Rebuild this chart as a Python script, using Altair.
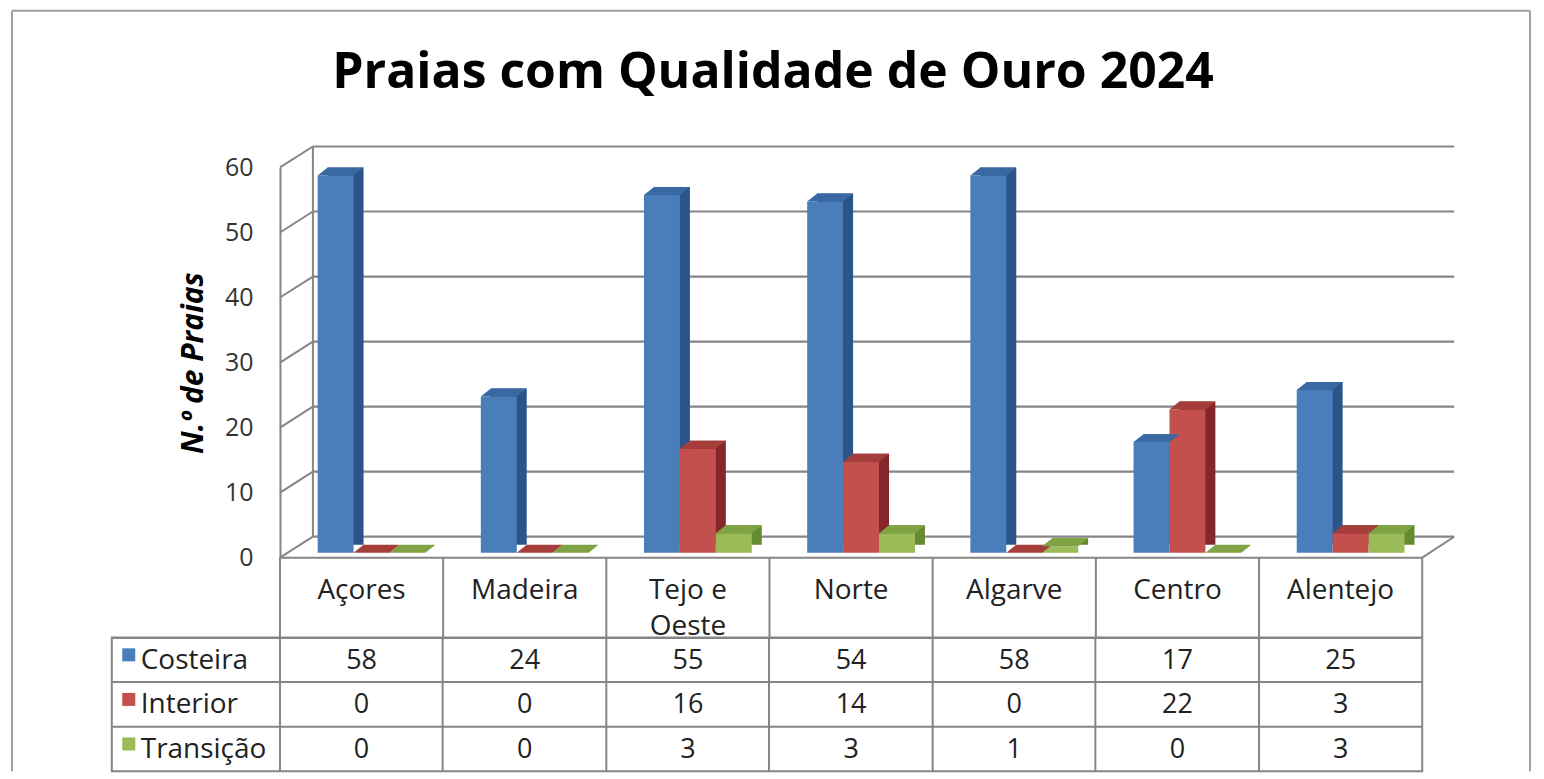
import altair as alt
import pandas as pd

# ---------------- data ----------------
categories = ["Açores", "Madeira", "Tejo e\nOeste", "Norte", "Algarve", "Centro", "Alentejo"]
series = ["Costeira", "Interior", "Transição"]
costeira = [58, 24, 55, 54, 58, 17, 25]
interior = [0, 0, 16, 14, 0, 22, 3]
transicao = [0, 0, 3, 3, 1, 0, 3]
y_ticks = [0, 10, 20, 30, 40, 50, 60]
title_text = "Praias com Qualidade de Ouro 2024"
y_title = "N.º de Praias"

# ---------------- style ----------------
front_colors = ["#4a7ebb", "#c4504d", "#9bbb59"]
top_colors = ["#3a68a3", "#a53e3b", "#7fa243"]
side_colors = ["#2b5589", "#84262a", "#668a30"]
FONT = "Open Sans"
GRID = "#858585"
TEXT = "#222222"
W = 1313            # plot width (legend column + 7 category columns)
BAND = 163.5        # category column width
LEG = W - 7 * BAND  # legend column width
H_BARS = 391
H_HEAD = 80
H_ROWS = 134
DX, DY = 33, 21     # depth of the back wall
BX, BY = 10, 5      # bars sit part way in depth
TX, TY = 10, 8      # depth of each bar
BW = 36             # bar width
G0 = (BAND - 3 * BW) / 2
R = 30              # custom symbol scale (sqrt(size)/2)
TOP_PATH = "M{a},0L{b},0L{c},{d}L{e},{d}Z".format(
    a=-BW / 2 / R, b=BW / 2 / R, c=(BW / 2 + TX) / R, d=-TY / R, e=(-BW / 2 + TX) / R)

# ---------------- tables ----------------
rows = []
for s, vals in zip(series, [costeira, interior, transicao]):
    for c, v in zip(categories, vals):
        rows.append({"cat": c, "series": s, "value": v})
df = pd.DataFrame(rows)
df["front"] = df["series"].map(dict(zip(series, front_colors)))
df["top"] = df["series"].map(dict(zip(series, top_colors)))
df["side"] = df["series"].map(dict(zip(series, side_colors)))
ticks_df = pd.DataFrame({"t": y_ticks})
span_df = pd.DataFrame({"lo": [min(y_ticks)], "hi": [max(y_ticks)]})
cat_df = pd.DataFrame({"cat": categories})
legend_df = pd.DataFrame({"series": series, "front": front_colors})

x_scale = alt.Scale(type="band", domain=categories, paddingInner=0,
                    paddingOuter=LEG / (2 * BAND), align=1)
y_scale = alt.Scale(domain=[min(y_ticks), max(y_ticks)], nice=False)
front_off = alt.Scale(type="band", domain=series, paddingInner=0, paddingOuter=0,
                      range=[G0 + BX, G0 + BX + 3 * BW])
side_off = alt.Scale(type="band", domain=series, paddingInner=0, paddingOuter=0,
                     range=[G0 + BX + TX, G0 + BX + TX + 3 * BW])
row_scale = alt.Scale(type="band", domain=series, paddingInner=0, paddingOuter=0)

y_axis = alt.Axis(offset=-LEG, values=y_ticks, grid=False, ticks=False,
                  domainColor=GRID, domainWidth=2,
                  labelFont=FONT, labelFontSize=25, labelColor="#333333", labelPadding=27,
                  title=y_title, titleFont=FONT, titleFontSize=30, titleFontWeight="bold",
                  titleFontStyle="italic", titleColor="black", titlePadding=16)

X = alt.X("cat:N", scale=x_scale, axis=None)
Yv = alt.Y("value:Q", scale=y_scale, axis=y_axis, stack=None)

# ---------------- 3D bar chart ----------------
grid_rules = alt.Chart(ticks_df).mark_rule(color=GRID, strokeWidth=2.2, yOffset=-DY).encode(
    x=alt.value(LEG + DX), x2=alt.value(W + 32),
    y=alt.Y("t:Q", scale=y_scale, axis=y_axis))
diag_rules = alt.Chart(ticks_df).mark_rule(color=GRID, strokeWidth=2, y2Offset=-DY).encode(
    x=alt.value(LEG), x2=alt.value(LEG + DX),
    y=alt.Y("t:Q", scale=y_scale, axis=y_axis), y2="t:Q")
back_vert = alt.Chart(span_df).mark_rule(color=GRID, strokeWidth=2, yOffset=-DY, y2Offset=-DY).encode(
    x=alt.value(LEG + DX), y=alt.Y("hi:Q", scale=y_scale, axis=y_axis), y2="lo:Q")
floor_right = alt.Chart(span_df).mark_rule(color=GRID, strokeWidth=2, y2Offset=-DY).encode(
    x=alt.value(W), x2=alt.value(W + 32),
    y=alt.Y("lo:Q", scale=y_scale, axis=y_axis), y2="lo:Q")
frame_c = "#a0a0a0"
FL, FR, FT = -100, 1421, -157
frame_left = alt.Chart(span_df).mark_rule(color=frame_c, strokeWidth=2).encode(
    x=alt.value(FL), y=alt.value(FT), y2=alt.value(H_BARS + H_HEAD + H_ROWS))
frame_right = alt.Chart(span_df).mark_rule(color=frame_c, strokeWidth=2).encode(
    x=alt.value(FR), y=alt.value(FT), y2=alt.value(H_BARS + H_HEAD + H_ROWS))
frame_top = alt.Chart(span_df).mark_rule(color=frame_c, strokeWidth=2).encode(
    x=alt.value(FL), x2=alt.value(FR), y=alt.value(FT))

side = alt.Chart(df).mark_bar(yOffset=-(BY + TY), y2Offset=-(BY + TY)).encode(
    x=X, xOffset=alt.XOffset("series:N", scale=side_off, sort=series),
    y=Yv, y2=alt.datum(0), color=alt.Color("side:N", scale=None))
front = alt.Chart(df).mark_bar(yOffset=-BY, y2Offset=-BY).encode(
    x=X, xOffset=alt.XOffset("series:N", scale=front_off, sort=series),
    y=Yv, y2=alt.datum(0), color=alt.Color("front:N", scale=None))
top = alt.Chart(df).mark_point(shape=TOP_PATH, filled=True, size=(2 * R) ** 2, opacity=1,
                               strokeWidth=0, yOffset=-BY).encode(
    x=X, xOffset=alt.XOffset("series:N", scale=front_off, sort=series),
    y=Yv, color=alt.Color("top:N", scale=None))

bars = alt.layer(frame_left, frame_right, frame_top, grid_rules, diag_rules, back_vert,
                 floor_right, side, front, top).resolve_scale(
    xOffset="independent").properties(width=W, height=H_BARS)

# ---------------- table header ----------------
Xb = alt.X("cat:N", scale=x_scale, axis=None, bandPosition=0)
head_text = alt.Chart(cat_df).mark_text(font=FONT, fontSize=28, color=TEXT, baseline="top",
                                        lineBreak="\n", lineHeight=36).encode(
    x=X, y=alt.value(19), text="cat:N")
head_v = alt.Chart(cat_df).mark_rule(color=GRID, strokeWidth=2).encode(
    x=Xb, y=alt.value(0), y2=alt.value(H_HEAD))
head_r = alt.Chart(span_df).mark_rule(color=GRID, strokeWidth=2).encode(
    x=alt.value(W), y=alt.value(0), y2=alt.value(H_HEAD))
head_t = alt.Chart(span_df).mark_rule(color=GRID, strokeWidth=2).encode(
    x=alt.value(LEG), x2=alt.value(W), y=alt.value(0))
header = alt.layer(head_v, head_r, head_t, head_text).properties(width=W, height=H_HEAD)

# ---------------- table values ----------------
grid_axis = dict(grid=True, bandPosition=0, labels=False, ticks=False, domain=False,
                 title=None, gridColor=GRID, gridWidth=2, gridOpacity=1)
Xt = alt.X("cat:N", scale=x_scale, axis=alt.Axis(**grid_axis))
Yr = alt.Y("series:N", scale=row_scale, axis=alt.Axis(**grid_axis))
vals_text = alt.Chart(df).mark_text(font=FONT, fontSize=27, color=TEXT, dy=1).encode(
    x=Xt, y=Yr, text="value:Q")
leg_sq = alt.Chart(legend_df).mark_square(size=170, opacity=1, yOffset=-5).encode(
    x=alt.value(17), y=Yr, color=alt.Color("front:N", scale=None))
leg_txt = alt.Chart(legend_df).mark_text(font=FONT, fontSize=28, color=TEXT, align="left", dy=1).encode(
    x=alt.value(29), y=Yr, text="series:N")
table = alt.layer(vals_text, leg_sq, leg_txt).properties(
    width=W, height=H_ROWS,
    view=alt.ViewBackground(stroke=GRID, strokeWidth=2))

chart = alt.vconcat(bars, header, table, spacing=0, bounds="flush").properties(
    title=alt.TitleParams(title_text, font=FONT, fontSize=50, fontWeight="bold", color="black",
                          anchor="middle", frame="group", offset=-88, dx=6),
    padding={"left": 3, "top": 1, "right": 5, "bottom": 0},
    background="white",
).configure_view(strokeWidth=0)

chart.save("out.html", embed_options={"renderer": "svg", "actions": False})
